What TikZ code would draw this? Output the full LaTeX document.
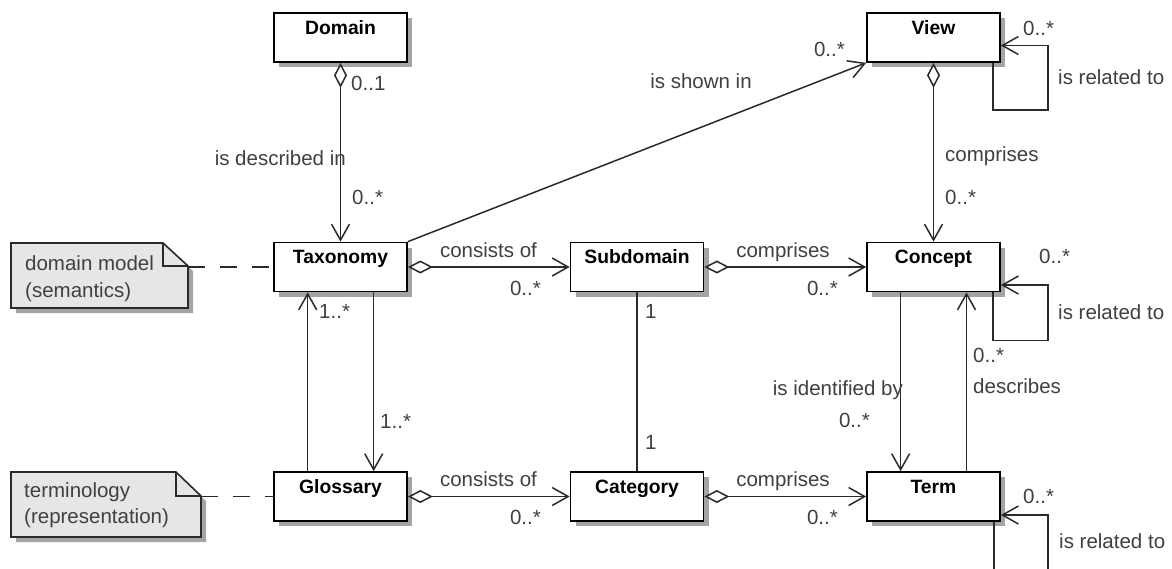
\documentclass[tikz,border=0pt]{standalone}
\usepackage{fontspec}
\setmainfont{Liberation Sans}
\usetikzlibrary{arrows.meta,shadows,calc}
\definecolor{lblgray}{HTML}{404040}
\definecolor{linegray}{HTML}{2A2A2A}
\definecolor{shadowgray}{HTML}{A4A4A4}
\definecolor{notefill}{HTML}{E6E6E6}
\tikzset{
  cls/.style={draw=black, line width=1.7pt, fill=white, minimum width=133pt,
    minimum height=49pt, inner sep=0pt, text height=21pt, text depth=28pt,
    font=\bfseries\fontsize{19.3}{23}\selectfont,
    drop shadow={shadow xshift=5pt, shadow yshift=-5pt, fill=shadowgray, opacity=1}},
  lbl/.style={inner sep=0pt, text=lblgray, font=\fontsize{20.5}{24}\selectfont},
  conn/.style={draw=linegray, line width=1.5pt},
  tipend/.style={-{Straight Barb[length=16pt,width=18pt]}},
  aggr/.style={{Diamond[fill=white,length=25pt,width=13pt]}-{Straight Barb[length=16pt,width=18pt]}},
  notebox/.style={draw=linegray, line width=1.6pt, fill=notefill},
  notedash/.style={draw=linegray, line width=1.4pt, dash pattern=on 17pt off 15pt},
}
\begin{document}
\begin{tikzpicture}[x=1pt,y=-1pt]
\fill[white] (0,0) rectangle (1172,568);
\useasboundingbox (0,0) rectangle (1172,568);

% classes
\node[cls] (dom)  at (340.5,37.5) {Domain};
\node[cls] (view) at (933.5,37.5) {View};
\node[cls] (tax)  at (340.5,267) {Taxonomy};
\node[cls] (sub)  at (637,267) {Subdomain};
\node[cls] (con)  at (933.5,267) {Concept};
\node[cls] (glo)  at (340.5,496.5) {Glossary};
\node[cls] (cat)  at (637,496.5) {Category};
\node[cls] (term) at (933.5,496.5) {Term};

% notes
\fill[shadowgray] (16,248) -- (168,248) -- (193,271) -- (193,313) -- (16,313) -- cycle;
\draw[notebox] (11,243) -- (163,243) -- (188,266) -- (188,308) -- (11,308) -- cycle;
\draw[notebox, fill=none] (163,243) -- (163,266) -- (188,266);
\node[lbl, anchor=base west] (n1a) at (25,270) {domain model};
\node[lbl, anchor=base west] (n1b) at (25,297) {(semantics)};
\coordinate (n1r) at (188,267);

\fill[shadowgray] (16,477) -- (181,477) -- (206,501) -- (206,542) -- (16,542) -- cycle;
\draw[notebox] (11,472) -- (176,472) -- (201,496) -- (201,537) -- (11,537) -- cycle;
\draw[notebox, fill=none] (176,472) -- (176,496) -- (201,496);
\node[lbl, anchor=base west] (n2a) at (24,497) {terminology};
\node[lbl, anchor=base west] (n2b) at (24,523) {(representation)};
\coordinate (n2r) at (201,496.5);

\draw[notedash] (n1r) -- (tax.west);
\draw[notedash] (n2r) -- (glo.west);

% connectors
\draw[conn,aggr] (dom.south) -- (tax.north);
\draw[conn,tipend] (tax.north east) -- (view.south west);
\draw[conn,aggr] (view.south) -- (con.north);
\draw[conn,tipend] ([xshift=-8pt]view.south east) -- ++(0,47) -- ++(55,0) |- ([yshift=-8pt]view.east);
\draw[conn,aggr] (tax.east) -- (sub.west);
\draw[conn,aggr] (sub.east) -- (con.west);
\draw[conn,tipend] ([xshift=-8pt]con.south east) -- ++(0,48) -- ++(55,0) |- ([yshift=-18pt]con.east);
\draw[conn,tipend] ([xshift=-32.8pt]glo.north) -- ([xshift=-32.8pt]tax.south);
\draw[conn,tipend] ([xshift=33.2pt]tax.south) -- ([xshift=33.2pt]glo.north);
\draw[conn] (sub.south) -- (cat.north);
\draw[conn,tipend] ([xshift=-32.9pt]con.south) -- ([xshift=-32.9pt]term.north);
\draw[conn,tipend] ([xshift=33pt]term.north) -- ([xshift=33pt]con.south);
\draw[conn,aggr] (glo.east) -- (cat.west);
\draw[conn,aggr] (cat.east) -- (term.west);
\draw[conn,tipend] ([xshift=-7pt]term.south east) -- ++(0,60) -- ++(54,0) |- ([yshift=-18.5pt]term.east);

% labels
\node[lbl, anchor=base west] (m1) at (351,90) {0..1};
\node[lbl, anchor=base east] (m2) at (346,165) {is described in};
\node[lbl, anchor=base west] (m3) at (352,204) {0..*};
\node[lbl, anchor=base] (m4) at (701,88) {is shown in};
\node[lbl, anchor=base east] (m5) at (845,56.5) {0..*};
\node[lbl, anchor=base west] (m6) at (945,161) {comprises};
\node[lbl, anchor=base west] (m7) at (945,204) {0..*};
\node[lbl, anchor=base west] (m8) at (1023,35) {0..*};
\node[lbl, anchor=base west] (m9) at (1058,84) {is related to};
\node[lbl, anchor=base] (m10) at (488.5,257) {consists of};
\node[lbl, anchor=base east] (m11) at (541,295) {0..*};
\node[lbl, anchor=base] (m12) at (783,257) {comprises};
\node[lbl, anchor=base east] (m13) at (838,295) {0..*};
\node[lbl, anchor=base west] (m14) at (1039,263) {0..*};
\node[lbl, anchor=base west] (m15) at (1058,319) {is related to};
\node[lbl, anchor=base west] (m16) at (319,318) {1..*};
\node[lbl, anchor=base west] (m17) at (380,428) {1..*};
\node[lbl, anchor=base west] (m18) at (645,318) {1};
\node[lbl, anchor=base west] (m19) at (645,449) {1};
\node[lbl, anchor=base east] (m20) at (903,395) {is identified by};
\node[lbl, anchor=base east] (m21) at (870,427) {0..*};
\node[lbl, anchor=base west] (m22) at (973,362) {0..*};
\node[lbl, anchor=base west] (m23) at (973,393) {describes};
\node[lbl, anchor=base] (m24) at (488.5,486) {consists of};
\node[lbl, anchor=base east] (m25) at (541,524.5) {0..*};
\node[lbl, anchor=base] (m26) at (783,486) {comprises};
\node[lbl, anchor=base east] (m27) at (838,524.5) {0..*};
\node[lbl, anchor=base west] (m28) at (1023,503) {0..*};
\node[lbl, anchor=base west] (m29) at (1059,548) {is related to};
\end{tikzpicture}
\end{document}
